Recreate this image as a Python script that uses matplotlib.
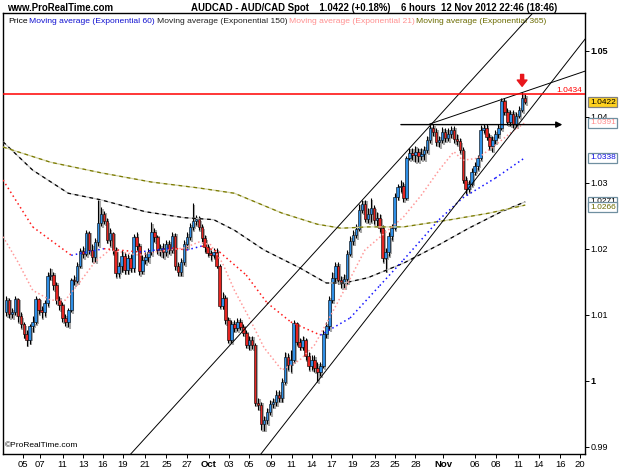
import matplotlib
matplotlib.use("Agg")
import matplotlib.pyplot as plt
import numpy as np
from matplotlib.offsetbox import TextArea, HPacker, AnchoredOffsetbox
from matplotlib.transforms import blended_transform_factory

plt.rcParams['font.family'] = ['Liberation Sans', 'DejaVu Sans']

# AUDCAD 6-hour candles (open = previous close)
first_open = 1.0104
close = [
    1.0122, 1.0101, 1.0104, 1.0124, 1.0098, 1.0086, 1.0071, 1.0062, 1.0083, 1.0089,
    1.0124, 1.0107, 1.0104, 1.0118, 1.0159, 1.0160, 1.0145, 1.0122, 1.0115, 1.0095,
    1.0089, 1.0107, 1.0153, 1.0151, 1.0174, 1.0197, 1.0192, 1.0224, 1.0198, 1.0187,
    1.0210, 1.0239, 1.0253, 1.0242, 1.0213, 1.0224, 1.0198, 1.0163, 1.0174, 1.0189,
    1.0168, 1.0186, 1.0171, 1.0218, 1.0204, 1.0166, 1.0183, 1.0187, 1.0195, 1.0225,
    1.0218, 1.0198, 1.0201, 1.0195, 1.0207, 1.0198, 1.0219, 1.0174, 1.0165, 1.0180,
    1.0207, 1.0218, 1.0233, 1.0242, 1.0245, 1.0233, 1.0216, 1.0203, 1.0194, 1.0190,
    1.0195, 1.0174, 1.0113, 1.0125, 1.0092, 1.0062, 1.0086, 1.0080, 1.0089, 1.0081,
    1.0072, 1.0054, 1.0062, 1.0054, 0.9966, 0.9963, 0.9934, 0.9941, 0.9953, 0.9965,
    0.9968, 0.9978, 0.9974, 0.9998, 1.0036, 1.0024, 1.0031, 1.0088, 1.0059, 1.0051,
    1.0062, 1.0037, 1.0022, 1.0031, 1.0019, 1.0013, 1.0022, 1.0071, 1.0083, 1.0122,
    1.0156, 1.0174, 1.0153, 1.0148, 1.0154, 1.0192, 1.0212, 1.0221, 1.0230, 1.0259,
    1.0268, 1.0245, 1.0253, 1.0262, 1.0244, 1.0247, 1.0231, 1.0186, 1.0195, 1.0219,
    1.0231, 1.0278, 1.0294, 1.0295, 1.0277, 1.0337, 1.0345, 1.0342, 1.0347, 1.0340,
    1.0343, 1.0350, 1.0365, 1.0383, 1.0377, 1.0362, 1.0365, 1.0377, 1.0368, 1.0374,
    1.0380, 1.0366, 1.0363, 1.0350, 1.0304, 1.0291, 1.0298, 1.0316, 1.0325, 1.0337,
    1.0380, 1.0383, 1.0369, 1.0356, 1.0365, 1.0374, 1.0383, 1.0424, 1.0407, 1.0392,
    1.0404, 1.0389, 1.0401, 1.0410, 1.0428, 1.0422,
]
high = [
    1.0128, 1.0125, 1.0110, 1.0128, 1.0125, 1.0104, 1.0089, 1.0077, 1.0086, 1.0098,
    1.0128, 1.0125, 1.0113, 1.0122, 1.0165, 1.0171, 1.0165, 1.0150, 1.0128, 1.0119,
    1.0101, 1.0110, 1.0156, 1.0160, 1.0180, 1.0201, 1.0204, 1.0228, 1.0227, 1.0207,
    1.0216, 1.0274, 1.0263, 1.0257, 1.0247, 1.0231, 1.0225, 1.0203, 1.0180, 1.0198,
    1.0195, 1.0192, 1.0192, 1.0222, 1.0225, 1.0209, 1.0190, 1.0195, 1.0201, 1.0240,
    1.0231, 1.0221, 1.0207, 1.0209, 1.0213, 1.0213, 1.0225, 1.0224, 1.0180, 1.0186,
    1.0213, 1.0225, 1.0239, 1.0269, 1.0251, 1.0250, 1.0237, 1.0221, 1.0207, 1.0198,
    1.0201, 1.0201, 1.0177, 1.0134, 1.0130, 1.0097, 1.0092, 1.0092, 1.0095, 1.0095,
    1.0086, 1.0077, 1.0068, 1.0068, 1.0057, 0.9974, 0.9968, 0.9947, 0.9959, 0.9971,
    0.9974, 0.9986, 0.9986, 1.0004, 1.0044, 1.0042, 1.0047, 1.0092, 1.0089, 1.0065,
    1.0068, 1.0065, 1.0044, 1.0039, 1.0039, 1.0028, 1.0028, 1.0077, 1.0089, 1.0128,
    1.0165, 1.0180, 1.0180, 1.0159, 1.0162, 1.0198, 1.0219, 1.0228, 1.0237, 1.0268,
    1.0274, 1.0274, 1.0262, 1.0277, 1.0266, 1.0256, 1.0253, 1.0236, 1.0201, 1.0225,
    1.0237, 1.0284, 1.0298, 1.0304, 1.0301, 1.0340, 1.0353, 1.0353, 1.0356, 1.0353,
    1.0353, 1.0356, 1.0371, 1.0387, 1.0389, 1.0383, 1.0371, 1.0384, 1.0383, 1.0383,
    1.0386, 1.0386, 1.0374, 1.0368, 1.0354, 1.0310, 1.0304, 1.0322, 1.0331, 1.0342,
    1.0387, 1.0389, 1.0389, 1.0375, 1.0371, 1.0380, 1.0389, 1.0428, 1.0428, 1.0413,
    1.0410, 1.0410, 1.0407, 1.0416, 1.0437, 1.0434,
]
low = [
    1.0098, 1.0095, 1.0095, 1.0099, 1.0089, 1.0080, 1.0065, 1.0053, 1.0056, 1.0074,
    1.0086, 1.0101, 1.0095, 1.0098, 1.0113, 1.0153, 1.0137, 1.0116, 1.0107, 1.0089,
    1.0083, 1.0081, 1.0104, 1.0145, 1.0148, 1.0171, 1.0186, 1.0189, 1.0192, 1.0180,
    1.0180, 1.0204, 1.0234, 1.0237, 1.0209, 1.0204, 1.0192, 1.0157, 1.0157, 1.0165,
    1.0162, 1.0162, 1.0165, 1.0165, 1.0198, 1.0160, 1.0162, 1.0177, 1.0180, 1.0190,
    1.0210, 1.0192, 1.0189, 1.0186, 1.0189, 1.0192, 1.0194, 1.0168, 1.0159, 1.0159,
    1.0175, 1.0201, 1.0213, 1.0228, 1.0236, 1.0228, 1.0210, 1.0195, 1.0189, 1.0183,
    1.0186, 1.0171, 1.0110, 1.0109, 1.0086, 1.0057, 1.0057, 1.0074, 1.0075, 1.0077,
    1.0068, 1.0050, 1.0047, 1.0048, 0.9962, 0.9956, 0.9925, 0.9924, 0.9934, 0.9948,
    0.9959, 0.9962, 0.9968, 0.9968, 0.9995, 1.0016, 1.0013, 1.0028, 1.0054, 1.0047,
    1.0047, 1.0031, 1.0016, 1.0016, 1.0013, 0.9998, 1.0007, 1.0019, 1.0065, 1.0077,
    1.0118, 1.0150, 1.0147, 1.0140, 1.0140, 1.0147, 1.0189, 1.0206, 1.0216, 1.0227,
    1.0254, 1.0240, 1.0239, 1.0240, 1.0237, 1.0234, 1.0225, 1.0180, 1.0165, 1.0189,
    1.0213, 1.0228, 1.0274, 1.0286, 1.0271, 1.0274, 1.0334, 1.0334, 1.0331, 1.0331,
    1.0334, 1.0334, 1.0345, 1.0360, 1.0371, 1.0356, 1.0354, 1.0360, 1.0362, 1.0363,
    1.0368, 1.0360, 1.0357, 1.0345, 1.0300, 1.0283, 1.0286, 1.0295, 1.0312, 1.0319,
    1.0334, 1.0375, 1.0365, 1.0350, 1.0347, 1.0359, 1.0368, 1.0380, 1.0403, 1.0387,
    1.0386, 1.0383, 1.0384, 1.0398, 1.0407, 1.0419,
]

# moving averages, sampled at candle positions
ema60_x = [-1, 9, 22, 33, 45, 56, 61, 66, 72, 81, 88, 96, 106, 116, 126, 134, 146, 154, 165, 175]
ema60 = [1.0304, 1.0233, 1.0190, 1.0200, 1.0195, 1.0201, 1.0198, 1.0204, 1.0195, 1.0160,
         1.0118, 1.0089, 1.0069, 1.0095, 1.0144, 1.0183, 1.0244, 1.0277, 1.0307, 1.0338]
ema21_x = [-1, 4, 9, 15, 20, 25, 30, 35, 40, 45, 50, 55, 60, 65, 69, 73, 77, 82, 87, 93,
           99, 104, 109, 114, 121, 128, 134, 140, 146, 151, 154, 159, 165, 170, 175]
ema21 = [1.0218, 1.0180, 1.0137, 1.0122, 1.0122, 1.0150, 1.0180, 1.0198, 1.0194, 1.0190,
         1.0195, 1.0198, 1.0201, 1.0210, 1.0206, 1.0178, 1.0137, 1.0095, 1.0050, 1.0016,
         1.0031, 1.0054, 1.0095, 1.0137, 1.0198, 1.0225, 1.0248, 1.0281, 1.0319, 1.0347,
         1.0334, 1.0337, 1.0357, 1.0375, 1.0391]
ema150_x = [-1, 9, 21, 32, 47, 60, 70, 77, 87, 99, 108, 114, 122, 134, 146, 156, 167, 175]
ema150 = [1.0362, 1.0319, 1.0284, 1.0274, 1.0256, 1.0247, 1.0244, 1.0228, 1.0198, 1.0171,
          1.0148, 1.0148, 1.0156, 1.0178, 1.0206, 1.0231, 1.0256, 1.0271]
ema365_x = [-1, 15, 32, 49, 65, 77, 93, 105, 113, 122, 134, 150, 163, 175]
ema365 = [1.0354, 1.0331, 1.0315, 1.0301, 1.0292, 1.0284, 1.0254, 1.0237, 1.0231, 1.0233,
          1.0233, 1.0244, 1.0254, 1.0266]

# drawn objects
resistance = 1.0434
neckline = 1.0388
neckline_span = [132.2, 188.5]
chan_upper = [(65.4, 1.0004), (142.9, 1.0386)]
chan_lower = [(89.6, 0.9910), (180.0, 1.0430)]
wedge_top = [(142.9, 1.0389), (195.2, 1.0469)]

tick_idx = [5.7, 11.5, 19.1, 26.0, 32.7, 39.4, 46.7, 54.1, 60.9, 68.3, 75.1, 81.9, 89.3, 96.3,
            103.0, 109.7, 116.7, 124.3, 131.0, 138.0, 147.4, 158.1, 165.3, 172.6, 179.7, 186.8, 193.5]
tick_lbl = ['05', '07', '11', '13', '16', '19', '21', '25', '27', 'Oct', '03', '05', '09', '11',
            '14', '17', '19', '23', '25', '28', 'Nov', '06', '08', '11', '14', '16', '20']
y_ticks = [0.99, 1.0, 1.01, 1.02, 1.03, 1.04, 1.05]
y_lbl = ['0.99', '1', '1.01', '1.02', '1.03', '1.04', '1.05']

BLUE = '#2f8fe6'
RED = '#e52421'


def main():
    fig = plt.figure(figsize=(6.25, 4.69), dpi=100)
    ax = fig.add_axes([3 / 625, 1 - 454 / 469, 582 / 625, 441 / 469])

    c = np.array(close)
    o = np.array([first_open] + close[:-1])
    h = np.maximum(np.array(high), np.maximum(o, c))
    l = np.minimum(np.array(low), np.minimum(o, c))
    x = np.arange(len(c))
    up = c >= o
    body_lo = np.minimum(o, c)
    body_h = np.maximum(np.abs(c - o), 0.00008)

    # grey 3d shadow
    sh = 0.00025
    ax.vlines(x + 0.55, l - sh, h - sh, color='#a9a9a9', lw=1.5, zorder=2)
    ax.bar(x + 0.55, body_h, bottom=body_lo - sh, width=0.85, color='#a9a9a9', zorder=2)
    # candles
    ax.vlines(x, l, h, color='black', lw=0.8, zorder=3)
    ax.bar(x, body_h, bottom=body_lo, width=0.85, color=np.where(up, BLUE, RED),
           edgecolor='black', linewidth=0.4, zorder=4)

    # moving averages
    ax.plot(ema150_x, ema150, color='#c4c4c4', lw=0.9, zorder=5)
    ax.plot(ema150_x, ema150, color='black', lw=0.9, ls=(0, (3, 3)), zorder=5)
    ax.plot(ema365_x, ema365, color='#d4d4a8', lw=0.9, zorder=5)
    ax.plot(ema365_x, ema365, color='#7a7a00', lw=0.9, ls=(0, (3, 3)), zorder=5)
    ax.plot(ema21_x, ema21, color='#ff9a9a', lw=1.1, ls=(0, (1, 1.6)), zorder=5)
    for i in range(len(ema60) - 1):
        col = '#1515ff' if ema60[i + 1] >= ema60[i] else '#ff1a1a'
        ax.plot(ema60_x[i:i + 2], ema60[i:i + 2], color=col, lw=1.1, ls=(0, (1, 2)), zorder=5)

    # trend lines
    ax.axline(chan_upper[0], chan_upper[1], color='black', lw=0.7, zorder=6)
    ax.axline(chan_lower[0], chan_lower[1], color='black', lw=0.7, zorder=6)
    ax.plot([p[0] for p in wedge_top], [p[1] for p in wedge_top], color='black', lw=0.7, zorder=6)
    ax.axhline(resistance, color='#ff0000', lw=1.1, zorder=6)
    ax.annotate('', xy=(neckline_span[1], neckline), xytext=(neckline_span[0], neckline),
                arrowprops=dict(arrowstyle='-|>', color='black', lw=1.0, mutation_scale=9),
                zorder=6)
    top = int(np.argmax(h))
    ax.annotate('', xy=(x[top], h[top] + 0.0009), xytext=(x[top], h[top] + 0.0027),
                arrowprops=dict(facecolor='#e8161b', edgecolor='#e8161b', width=2.2,
                                headwidth=7, headlength=4.5), zorder=7)

    ax.set_xlim(-1.01, 195.2)
    ax.set_ylim(0.98889, 1.05571)

    ax.set_xticks(tick_idx)
    ax.set_xticklabels(tick_lbl)
    for t in ax.get_xticklabels():
        if t.get_text() in ('Oct', 'Nov'):
            t.set_fontweight('bold')
    ax.yaxis.tick_right()
    ax.set_yticks(y_ticks)
    ax.set_yticklabels(y_lbl)
    for t in ax.get_yticklabels():
        if t.get_text() in ('1', '1.05'):
            t.set_fontweight('bold')
    ax.tick_params(axis='x', direction='out', length=3, width=0.7, labelsize=6.8, pad=1.5)
    ax.tick_params(axis='y', direction='out', length=3, width=0.7, labelsize=6.5, pad=1)
    for s in ax.spines.values():
        s.set_linewidth(1.0)

    # value tags on the right
    tr = blended_transform_factory(ax.transAxes, ax.transData)
    tag_box = dict(boxstyle='square,pad=0.18', lw=0.9)

    def tag(val, fg, bg, ec, nudge=0.0):
        ax.text(1.0085, val + nudge, f'{val:.4f}', transform=tr, fontsize=6, color=fg,
                ha='left', va='center', clip_on=False, zorder=8,
                bbox=dict(tag_box, fc=bg, ec=ec))

    tag(ema150[-1], 'black', 'white', '#6f8fa0')
    tag(ema365[-1], '#6b6b00', 'white', '#6f8fa0', nudge=-0.0003)
    tag(ema60[-1], '#1010e0', 'white', '#6f8fa0')
    tag(ema21[-1], '#ff8c8c', 'white', '#6f8fa0')
    tag(close[-1], 'black', '#ffd21f', '#808080')
    ax.text(0.995, resistance + 0.0001, f'{resistance:.4f}', transform=tr, color='#ff0000',
            fontsize=6, ha='right', va='bottom', zorder=8)

    # legend row
    items = [('Price', 'black'), ('Moving average (Exponential 60)', '#1010d0'),
             ('Moving average (Exponential 150)', '#202020'),
             ('Moving average (Exponential 21)', '#ff9090'),
             ('Moving average (Exponential 365)', '#6b6b00')]
    areas = [TextArea(s, textprops=dict(color=col, fontsize=6.1)) for s, col in items]
    box = HPacker(children=areas, align='baseline', pad=0, sep=1.2)
    anch = AnchoredOffsetbox(loc='upper left', child=box, pad=0.1, borderpad=0.25,
                             frameon=False)
    ax.add_artist(anch)

    ax.text(0.003, 0.012, '\u00a9ProRealTime.com', transform=ax.transAxes, fontsize=6,
            ha='left', va='bottom', zorder=8)

    # header
    hdr = dict(fontsize=6.9, fontweight='bold', va='center', ha='left')
    fig.text(7 / 625, 1 - 8 / 469, 'www.ProRealTime.com', **hdr)
    fig.text(191 / 625, 1 - 8 / 469,
             'AUDCAD - AUD/CAD Spot    1.0422 (+0.18%)    6 hours  12 Nov 2012 22:46 (18:46)',
             **hdr)

    fig.savefig('out.png', dpi=100)


if __name__ == '__main__':
    main()
